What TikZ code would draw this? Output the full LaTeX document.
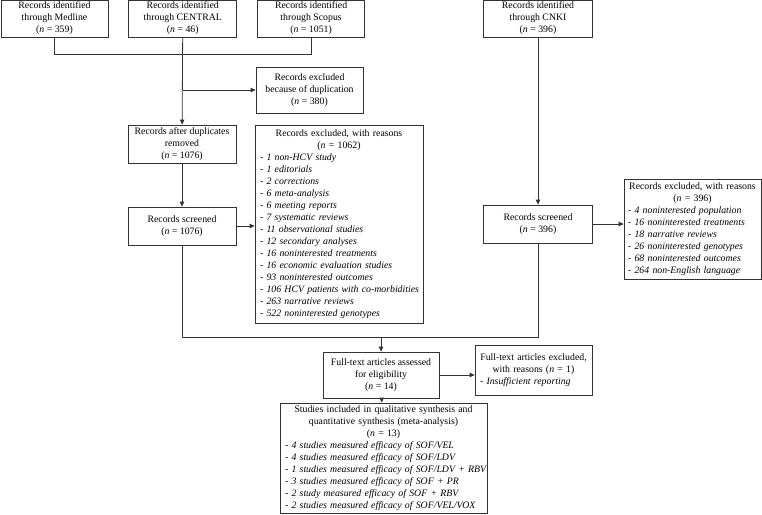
\documentclass[tikz,border=0pt]{standalone}
\usepackage{fontspec}
\setmainfont{Liberation Serif}
\usetikzlibrary{positioning,arrows.meta}

\begin{document}
\begin{tikzpicture}[x=1pt,y=-1pt,
	>={Triangle[length=5pt,width=4.5pt]},
	recbox/.style={
		% The shape:
		rectangle,
		% The size:
		minimum width=107pt, minimum height=35pt,
		inner sep=2pt,
		% The border:
		draw=black!80, line width=0.8pt,
		% Font
		font=\fontsize{9.8}{12}\selectfont,
		align=center
		},
	% boxes with a centred head and a list below it
	listbox/.style={recbox, inner xsep=5pt, align=left},
	link/.style={draw=black!80, line width=0.8pt}]

	\useasboundingbox (0,0) rectangle (762,514);

	\node (medline) [recbox] at (54.5,18.5) {Records identified\\through Medline\\(\textit{n} = 359)};
	\node (central) [recbox,right=20pt of medline,minimum width=108pt] {Records identified\\through CENTRAL\\(\textit{n} = 46)};
	\node (scopus) [recbox,right=20pt of central] {Records identified\\through Scopus\\(\textit{n} = 1051)};
	\node (cnki) [recbox,minimum width=109pt] at (538,18.5) {Records identified\\through CNKI\\(\textit{n} = 396)};

	\node (duplicates) [recbox,minimum height=46pt] at (309.5,90) {Records excluded\\because of duplication\\(\textit{n} = 380)};
	\node (afterdup) [recbox,minimum width=108pt,minimum height=38pt] at (182,144) {Records after duplicates\\removed\\(\textit{n} = 1076)};
	\node (screened) [recbox,minimum width=108pt,minimum height=38pt] at (182,226) {Records screened\\(\textit{n} = 1076)};
	\node (excluded) [listbox,text width=158pt,minimum height=198pt] at (339,224) {{\centering Records excluded, with reasons\\(\textit{n} = 1062)\par}
		- \textit{1 non-HCV study}\\
		- \textit{1 editorials}\\
		- \textit{2 corrections}\\
		- \textit{6 meta-analysis}\\
		- \textit{6 meeting reports}\\
		- \textit{7 systematic reviews}\\
		- \textit{11 observational studies}\\
		- \textit{12 secondary analyses}\\
		- \textit{16 noninterested treatments}\\
		- \textit{16 economic evaluation studies}\\
		- \textit{93 noninterested outcomes}\\
		\mbox{- \textit{106 HCV patients with co-morbidities}}\\
		- \textit{263 narrative reviews}\\
		- \textit{522 noninterested genotypes}};

	\node (cnkiscreened) [recbox,minimum width=109pt,minimum height=38pt] at (538,224) {Records screened\\(\textit{n} = 396)};
	\node (cnkiexcluded) [listbox,inner xsep=4pt,text width=129pt,minimum height=100pt] at (692.5,229) {{\centering Records excluded, with reasons\\(\textit{n} = 396)\par}
		- \textit{4 noninterested population}\\
		- \textit{16 noninterested treatments}\\
		- \textit{18 narrative reviews}\\
		- \textit{26 noninterested genotypes}\\
		- \textit{68 noninterested outcomes}\\
		- \textit{264 non-English language}};

	\node (fulltext) [recbox,minimum width=116pt,minimum height=46pt] at (381,375) {Full-text articles assessed\\for eligibility\\(\textit{n} = 14)};
	\node (ftexcluded) [listbox,text width=107pt,minimum height=50pt] at (533.5,370) {{\centering Full-text articles excluded,\\with reasons (\textit{n} = 1)\par}
		- \textit{Insufficient reporting}};
	\node (included) [listbox,text width=197pt,minimum height=110pt] at (383.5,458) {{\centering Studies included in qualitative synthesis and\\quantitative synthesis (meta-analysis)\\(\textit{n} = 13)\par}
		- \textit{4 studies measured efficacy of SOF/VEL}\\
		- \textit{4 studies measured efficacy of SOF/LDV}\\
		\mbox{- \textit{1 studies measured efficacy of SOF/LDV + RBV}}\\
		- \textit{3 studies measured efficacy of SOF + PR}\\
		- \textit{2 study measured efficacy of SOF + RBV}\\
		- \textit{2 studies measured efficacy of SOF/VEL/VOX}};

	\draw[link] (medline.south) -- ++(0,17) -| (scopus.south);
	\draw[link,->] (central) -- (afterdup);
	\draw[link,->] (central.south |- duplicates.west) -- (duplicates.west);
	\draw[link,->] (afterdup) -- (screened);
	\draw[link,->] (screened.east) -- (screened.east -| excluded.west);
	\draw[link,->] (cnki) -- (cnkiscreened);
	\draw[link,->] (cnkiscreened.east) -- (cnkiscreened.east -| cnkiexcluded.west);
	\draw[link] (screened.south) -- ++(0,92) coordinate (merge) -| (cnkiscreened.south);
	\draw[link,->] (merge -| fulltext.north) -- (fulltext.north);
	\draw[link,->] (fulltext.east) -- (fulltext.east -| ftexcluded.west);
	\draw[link,->] (fulltext) -- (included);

\end{tikzpicture}
\end{document}
